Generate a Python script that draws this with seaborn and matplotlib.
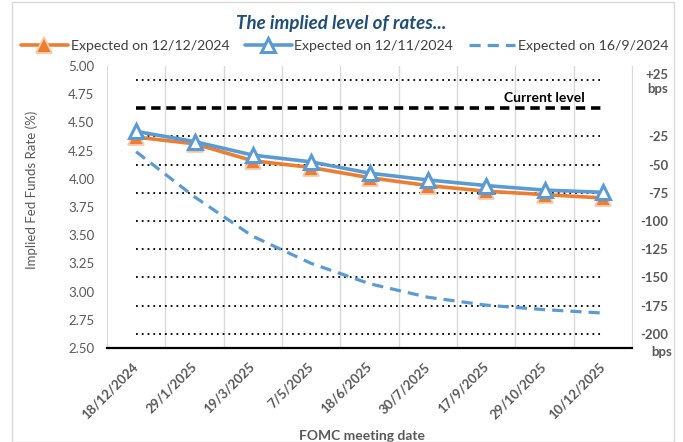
import numpy as np
import pandas as pd
import matplotlib.pyplot as plt
import seaborn as sns
from matplotlib.patches import Rectangle

dates = ["18/12/2024", "29/1/2025", "19/3/2025", "7/5/2025", "18/6/2025",
         "30/7/2025", "17/9/2025", "29/10/2025", "10/12/2025"]
exp_dec = [4.37, 4.31, 4.16, 4.10, 4.01, 3.94, 3.89, 3.86, 3.83]
exp_nov = [4.42, 4.33, 4.21, 4.15, 4.05, 3.99, 3.94, 3.90, 3.88]
exp_sep = [4.24, 3.84, 3.49, 3.25, 3.07, 2.95, 2.88, 2.84, 2.81]
current_level = 4.625
bps_moves = [25, -25, -50, -75, -100, -125, -150, -175, -200]
bps_labels = ["+25\nbps", "-25", "-50", "-75", "-100", "-125", "-150", "-175", "-200"]
y_ticks = np.arange(2.5, 5.01, 0.25)

orange = "#ED7D31"
blue = "#5B9BD5"
grey = "#595959"

sns.set_style("white")
plt.rcParams["font.family"] = ["Lato", "DejaVu Sans"]

df = pd.DataFrame({"date": dates, "dec": exp_dec, "nov": exp_nov, "sep": exp_sep})

fig = plt.figure(figsize=(6.83, 4.42), dpi=100)
ax = fig.add_axes([107 / 683, 1 - 348 / 442, 525 / 683, 282 / 442])

# reference lines in bps relative to the current level
levels = [current_level + b / 100 for b in bps_moves]
ax.hlines(levels, 0, len(dates) - 1, colors="black", linestyles=(0, (1, 2.2)), linewidth=1.3, zorder=1)
ax.hlines(current_level, 0, len(dates) - 1, colors="black", linestyles=(0, (2.6, 1.6)), linewidth=2.6, zorder=2)
ax.text(7, current_level + 0.04, "Current level", ha="center", va="bottom",
        fontsize=10, fontweight="bold", color="black")

sns.lineplot(data=df, x="date", y="sep", ax=ax, color=blue, linewidth=2.3,
             linestyle=(0, (3.5, 2.2)), label="Expected on 16/9/2024", zorder=3)
sns.lineplot(data=df, x="date", y="dec", ax=ax, color=orange, linewidth=2.6,
             marker="^", markersize=11, markerfacecolor=orange, markeredgecolor="#F8CBAD",
             markeredgewidth=1.3, label="Expected on 12/12/2024", zorder=4)
sns.lineplot(data=df, x="date", y="nov", ax=ax, color=blue, linewidth=2.6,
             marker="^", markersize=10, markerfacecolor="white", markeredgecolor=blue,
             markeredgewidth=2.2, label="Expected on 12/11/2024", zorder=5)

ax.set_xlim(-0.5, len(dates) - 0.5)
ax.set_ylim(2.5, 5.0)
ax.set_yticks(y_ticks)
ax.set_yticklabels([f"{v:.2f}" for v in y_ticks], color=grey, fontsize=9.5)
ax.tick_params(axis="y", length=0, pad=9)
ax.set_xticks(range(len(dates)))
ax.set_xticklabels(dates, rotation=45, ha="right", va="center", rotation_mode="anchor",
                   fontsize=9.5, fontweight="bold", color=grey)
ax.tick_params(axis="x", length=0, pad=12)

for b in np.arange(0.5, len(dates) - 0.5, 1.0):
    ax.axvline(b, color="#D9D9D9", linewidth=1, zorder=0)

ax.spines["top"].set_visible(False)
ax.spines["left"].set_color("#D9D9D9")
ax.spines["right"].set_color("#D9D9D9")
ax.spines["bottom"].set_color("black")
ax.spines["bottom"].set_linewidth(1.6)

ax.set_xlabel("FOMC meeting date", fontsize=10, fontweight="bold", color=grey)
ax.xaxis.set_label_coords(0.486, -0.29)
ax.set_ylabel("Implied Fed Funds Rate (%)", fontsize=9.5, color=grey)
ax.yaxis.set_label_coords(-0.131, 0.56)

ax2 = ax.twinx()
ax2.set_ylim(ax.get_ylim())
ax2.set_yticks(levels)
ax2.set_yticklabels(bps_labels, fontsize=9.5, fontweight="bold", color=grey, ha="right")
ax2.tick_params(axis="y", length=0, pad=26)
for s in ax2.spines.values():
    s.set_visible(False)
ax2.annotate("bps", xy=(1.0, levels[-1]), xycoords=("axes fraction", "data"),
             xytext=(21, -13), textcoords="offset points", ha="center", va="center",
             fontsize=9.5, fontweight="bold", color=grey, annotation_clip=False)

handles, labels = ax.get_legend_handles_labels()
ax.get_legend().remove()
order = [labels.index("Expected on 12/12/2024"), labels.index("Expected on 12/11/2024"),
         labels.index("Expected on 16/9/2024")]
fig.legend([handles[i] for i in order], [labels[i] for i in order], loc="center",
           bbox_to_anchor=(0.505, 1 - 46 / 442), ncol=3, frameon=False, fontsize=10.2,
           handlelength=3.3, columnspacing=1.1, handletextpad=0.2,
           labelcolor="#404040")

fig.text(0.5, 1 - 23 / 442, "The implied level of rates...", ha="center", va="center",
         fontsize=13.5, fontstyle="italic", fontweight="bold", color="#1F4E79")

fig.patches.append(Rectangle((12 / 683, 0), 662 / 683, 1 - 2 / 442, transform=fig.transFigure,
                             fill=False, edgecolor="#D9D9D9", linewidth=1))

fig.savefig("out.png", dpi=100)
